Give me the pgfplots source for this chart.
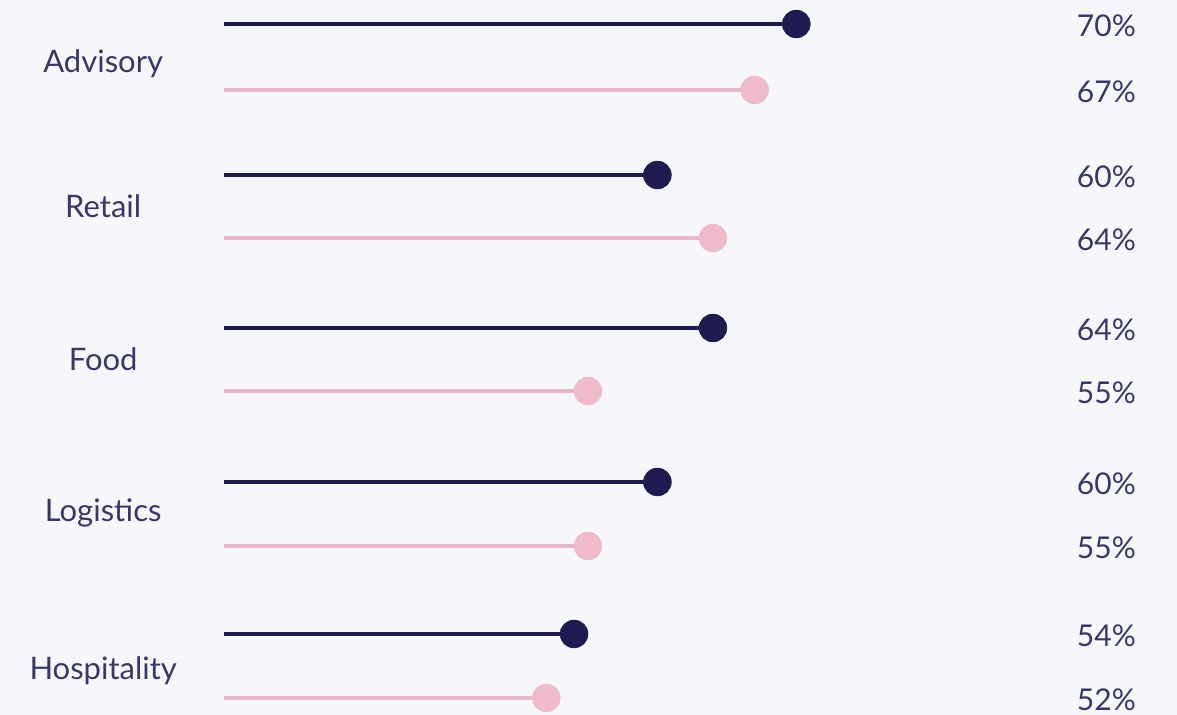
\documentclass[border=0pt]{standalone}
\usepackage{pgfplots}
\pgfplotsset{compat=1.18}
\usepackage{pgfplotstable}
\usepackage{fontspec}
\setmainfont{Lato}
\definecolor{bgc}{HTML}{F6F7FB}
\definecolor{navy}{HTML}{1F1A4F}
\definecolor{pinkc}{HTML}{EFBBCA}
\definecolor{pinkl}{HTML}{E9B7C8}
\definecolor{txt}{HTML}{3A3669}

% y = vertical position (px from top), v = value in %
\pgfplotstableread{
v y lab
70 24 {70\%}
60 175 {60\%}
64 328 {64\%}
60 482 {60\%}
54 634 {54\%}
}\darkdata
\pgfplotstableread{
v y lab
67 90 {67\%}
64 238 {64\%}
55 391 {55\%}
55 546 {55\%}
52 698 {52\%}
}\pinkdata
\pgfplotstableread{
x y lab
20.1 64 Advisory
20.1 206 Retail
20.1 359 Food
20.1 513 Logistics
20.1 671 Hospitality
}\cats

\begin{document}
\begin{tikzpicture}
\begin{axis}[
  scale only axis,
  width=1177pt, height=715pt,
  xmin=12.67, xmax=97.41,
  ymin=0, ymax=715, y dir=reverse,
  hide axis,
  clip=false,
  every error bar/.append style={line width=3.4pt},
]
\fill[bgc] (rel axis cs:0,0) rectangle (rel axis cs:1,1);
% dark series
\addplot[only marks, mark=*, mark size=14pt, color=navy,
  error bars/.cd, x dir=minus, x explicit,
  error bar style={line width=3.4pt, color=navy}, error mark=none]
  table[x=v, y=y, x error expr=\thisrow{v}-28.8] {\darkdata};
% pink series
\addplot[only marks, mark=*, mark size=14pt, color=pinkc,
  error bars/.cd, x dir=minus, x explicit,
  error bar style={line width=3.2pt, color=pinkl}, error mark=none]
  table[x=v, y=y, x error expr=\thisrow{v}-28.8] {\pinkdata};
% value labels
\addplot[only marks, mark=none, nodes near coords, point meta=explicit symbolic,
  nodes near coords style={anchor=east, text=txt, font=\fontsize{30}{34}\selectfont, inner sep=0pt, yshift=-2pt}]
  table[x expr=94.46, y=y, meta=lab] {\darkdata};
\addplot[only marks, mark=none, nodes near coords, point meta=explicit symbolic,
  nodes near coords style={anchor=east, text=txt, font=\fontsize{30}{34}\selectfont, inner sep=0pt, yshift=-2pt}]
  table[x expr=94.46, y=y, meta=lab] {\pinkdata};
% category labels
\addplot[only marks, mark=none, nodes near coords, point meta=explicit symbolic,
  nodes near coords style={anchor=center, text=txt, font=\fontsize{31}{36}\selectfont, inner sep=0pt}]
  table[x=x, y=y, meta=lab] {\cats};
\end{axis}
\end{tikzpicture}
\end{document}
